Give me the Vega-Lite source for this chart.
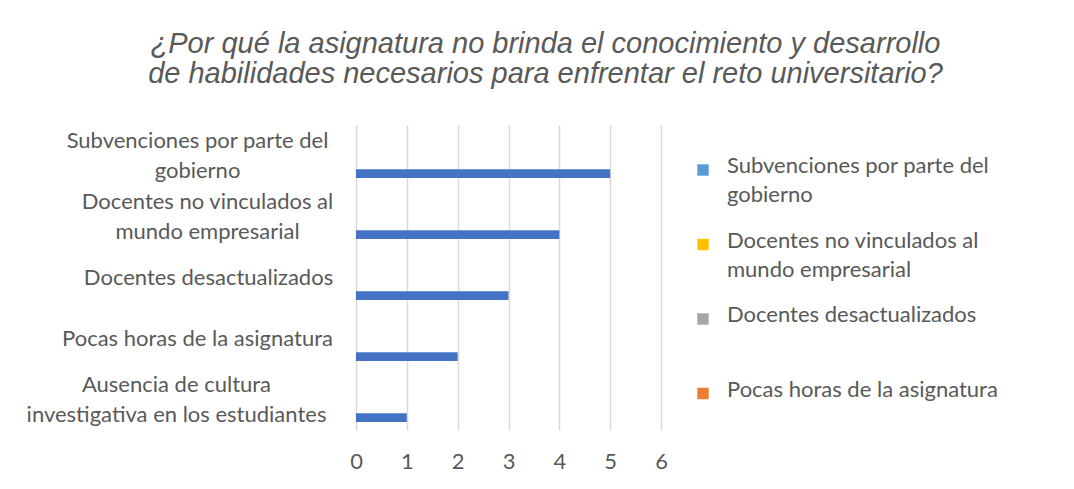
{
  "$schema": "https://vega.github.io/schema/vega-lite/v6.json",
  "autosize": {"type": "none"},
  "width": 305,
  "height": 305,
  "padding": {"left": 356, "top": 125, "right": 413, "bottom": 59},
  "background": "white",
  "title": {
    "text": ["¿Por qué la asignatura no brinda el conocimiento y desarrollo", "de habilidades necesarios para enfrentar el reto universitario?"],
    "anchor": "middle",
    "frame": "group",
    "dx": 37,
    "offset": 36,
    "font": "Liberation Sans",
    "fontStyle": "italic",
    "fontWeight": "normal",
    "fontSize": 29,
    "lineHeight": 30,
    "color": "#595959"
  },
  "datasets": {
    "barras": [
      {"categoria": "Subvenciones por parte del gobierno", "valor": 5, "serie": "Total"},
      {"categoria": "Docentes no vinculados al mundo empresarial", "valor": 4, "serie": "Total"},
      {"categoria": "Docentes desactualizados", "valor": 3, "serie": "Total"},
      {"categoria": "Pocas horas de la asignatura", "valor": 2, "serie": "Total"},
      {"categoria": "Ausencia de cultura investigativa en los estudiantes", "valor": 1, "serie": "Total"}
    ],
    "leyenda": [
      {"entrada": "Subvenciones por parte del gobierno"},
      {"entrada": "Docentes no vinculados al mundo empresarial"},
      {"entrada": "Docentes desactualizados"},
      {"entrada": "Pocas horas de la asignatura"}
    ]
  },
  "layer": [
    {
      "data": {"name": "barras"},
      "mark": {"type": "bar", "color": "#4472C4"},
      "encoding": {
        "y": {
          "field": "categoria",
          "type": "nominal",
          "sort": null,
          "scale": {"paddingInner": 0, "paddingOuter": 0},
          "axis": {
            "title": null,
            "domain": false,
            "ticks": false,
            "grid": false,
            "labelFont": "Lato",
            "labelFontSize": 22,
            "labelColor": "#595959",
            "labelAlign": "center",
            "labelLimit": 0,
            "labelLineHeight": 30,
            "labelExpr": "datum.label == 'Subvenciones por parte del gobierno' ? ['Subvenciones por parte del', 'gobierno'] : datum.label == 'Docentes no vinculados al mundo empresarial' ? ['Docentes no vinculados al', 'mundo empresarial'] : datum.label == 'Ausencia de cultura investigativa en los estudiantes' ? ['Ausencia de cultura', 'investigativa en los estudiantes'] : datum.label",
            "labelOffset": {
              "condition": {"test": "indexof(['Subvenciones por parte del gobierno', 'Docentes no vinculados al mundo empresarial', 'Ausencia de cultura investigativa en los estudiantes'], datum.value) >= 0", "value": -15},
              "value": 0
            },
            "labelPadding": {
              "condition": [
                {"test": "datum.value == 'Subvenciones por parte del gobierno'", "value": 159},
                {"test": "datum.value == 'Docentes no vinculados al mundo empresarial'", "value": 149},
                {"test": "datum.value == 'Docentes desactualizados'", "value": 148},
                {"test": "datum.value == 'Pocas horas de la asignatura'", "value": 159}
              ],
              "value": 180
            }
          }
        },
        "yOffset": {
          "field": "serie",
          "type": "nominal",
          "scale": {
            "domain": ["Subvenciones por parte del gobierno", "Docentes no vinculados al mundo empresarial", "Docentes desactualizados", "Pocas horas de la asignatura", "Total"],
            "range": [0, 53],
            "paddingInner": 0.2,
            "paddingOuter": 0
          }
        },
        "x": {
          "field": "valor",
          "type": "quantitative",
          "scale": {"domain": [0, 6], "nice": false},
          "axis": {
            "title": null,
            "domain": false,
            "ticks": false,
            "values": [0, 1, 2, 3, 4, 5, 6],
            "labelOverlap": false,
            "labelFlush": false,
            "grid": true,
            "gridColor": "#D9D9D9",
            "gridWidth": 1.5,
            "labelFont": "Lato",
            "labelFontSize": 22,
            "labelColor": "#595959",
            "labelPadding": 21
          }
        }
      }
    },
    {
      "data": {"name": "leyenda"},
      "mark": {"type": "square", "opacity": 0},
      "encoding": {
        "color": {
          "field": "entrada",
          "type": "nominal",
          "sort": null,
          "scale": {
            "domain": ["Subvenciones por parte del gobierno", "Docentes no vinculados al mundo empresarial", "Docentes desactualizados", "Pocas horas de la asignatura"],
            "range": ["#5B9BD5", "#FFC000", "#A5A5A5", "#ED7D31"]
          },
          "legend": {
            "title": null,
            "orient": "none",
            "legendX": 336,
            "legendY": 34,
            "padding": 0,
            "symbolType": "square",
            "symbolSize": 130,
            "symbolOpacity": 1,
            "symbolStrokeWidth": 0,
            "labelFont": "Lato",
            "labelFontSize": 22,
            "labelColor": "#595959",
            "labelOffset": 13,
            "labelLimit": 0,
            "labelBaseline": "top",
            "gridAlign": "all",
            "rowPadding": 23.5,
            "labelExpr": "datum.label == 'Subvenciones por parte del gobierno' ? ['Subvenciones por parte del', 'gobierno'] : datum.label == 'Docentes no vinculados al mundo empresarial' ? ['Docentes no vinculados al', 'mundo empresarial'] : datum.label",
            "encode": {
              "labels": {"update": {"dy": {"value": -14}, "lineHeight": {"value": 29}}}
            }
          }
        }
      }
    }
  ],
  "config": {"view": {"stroke": null}}
}
